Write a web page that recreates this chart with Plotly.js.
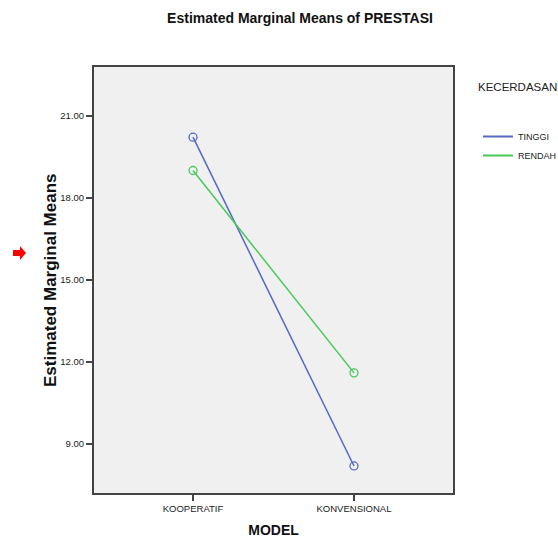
<!DOCTYPE html>
<html>
<head>
<meta charset="utf-8">
<script src="https://cdn.plot.ly/plotly-3.0.1.min.js"></script>
<style>html,body{margin:0;padding:0;background:#fff;}#chart{width:558px;height:540px;}</style>
</head>
<body>
<div id="chart"></div>
<script>
var categories = ["KOOPERATIF", "KONVENSIONAL"];
var seriesNames = ["TINGGI", "RENDAH"];
var tinggi = [20.23, 8.19];
var rendah = [19.01, 11.60];
var yTicks = [9, 12, 15, 18, 21];
var yTickLabels = ["9.00", "12.00", "15.00", "18.00", "21.00"];
var legendTitle = "KECERDASAN";

var W = 558, H = 540;
var M = {l: 94, r: 105, t: 67, b: 47, autoexpand: false};
function px(x) { return (x - M.l) / (W - M.l - M.r); }
function py(y) { return (H - M.b - y) / (H - M.t - M.b); }
// decorative red arrow on the left
var arrowPts = [[13,250],[20,250],[20,246],[26,253],[20,260],[20,256],[13,256]];
var arrowPath = arrowPts.map(function(p, i){ return (i ? 'L' : 'M') + px(p[0]).toFixed(5) + ',' + py(p[1]).toFixed(5); }).join(' ') + ' Z';

var colors = ["#5468c4", "#47c95a"];
var font = "Liberation Sans, Arial, sans-serif";

var traces = [];
[tinggi, rendah].forEach(function(vals, i) {
  traces.push({
    x: categories, y: vals, name: seriesNames[i], type: 'scatter', mode: 'lines+markers',
    line: {color: colors[i], width: 1.5},
    marker: {symbol: 'circle-open', size: 8, color: colors[i], line: {width: 1.3}},
    showlegend: false, hoverinfo: 'skip'
  });
});
// legend entries (lines only)
seriesNames.forEach(function(n, i) {
  traces.push({x: [null], y: [null], name: n, type: 'scatter', mode: 'lines',
    line: {color: colors[i], width: 2}, showlegend: true, hoverinfo: 'skip'});
});

var layout = {
  width: W, height: H,
  margin: M,
  paper_bgcolor: '#ffffff',
  plot_bgcolor: '#f0f0f0',
  font: {family: font, color: '#222'},
  title: {text: '<b>Estimated Marginal Means of PRESTASI</b>', font: {family: font, size: 14, color: '#111'},
          x: 300 / W, xref: 'container', xanchor: 'center', y: 1 - 18 / H, yref: 'container', yanchor: 'middle'},
  xaxis: {
    type: 'category', range: [-0.615, 1.615],
    showgrid: false, zeroline: false,
    showline: true, linecolor: '#444', linewidth: 2, mirror: true,
    ticks: 'outside', ticklen: 6, tickwidth: 2, tickcolor: '#444',
    tickfont: {family: font, size: 9.5, color: '#222'},
    title: {text: '<b>MODEL</b>', font: {family: font, size: 14, color: '#111'}, standoff: 12}
  },
  yaxis: {
    range: [7.2, 22.8],
    tickvals: yTicks, ticktext: yTickLabels,
    showgrid: false, zeroline: false,
    showline: true, linecolor: '#444', linewidth: 2, mirror: true,
    ticks: 'outside', ticklen: 6, tickwidth: 2, tickcolor: '#444',
    tickfont: {family: font, size: 9.5, color: '#222'}
  },
  showlegend: true,
  legend: {
    x: px(478), y: py(122), xanchor: 'left', yanchor: 'top',
    bgcolor: 'rgba(0,0,0,0)',
    font: {family: font, size: 9, color: '#222'},
    tracegroupgap: 0, itemwidth: 30
  },
  annotations: [
    {text: legendTitle, xref: 'paper', yref: 'paper', x: px(476), y: py(87), xanchor: 'left', yanchor: 'middle',
     showarrow: false, font: {family: font, size: 11.5, color: '#222'}},
    {text: '<b>Estimated Marginal Means</b>', xref: 'paper', yref: 'paper', x: px(50), y: py(280), xanchor: 'center', yanchor: 'middle',
     textangle: -90, showarrow: false, font: {family: font, size: 17, color: '#111'}}
  ],
  shapes: [{type: 'path', xref: 'paper', yref: 'paper', path: arrowPath, fillcolor: '#ff0000', line: {width: 0}}]
};

Plotly.newPlot('chart', traces, layout, {displayModeBar: false, staticPlot: true});
</script>
</body>
</html>
